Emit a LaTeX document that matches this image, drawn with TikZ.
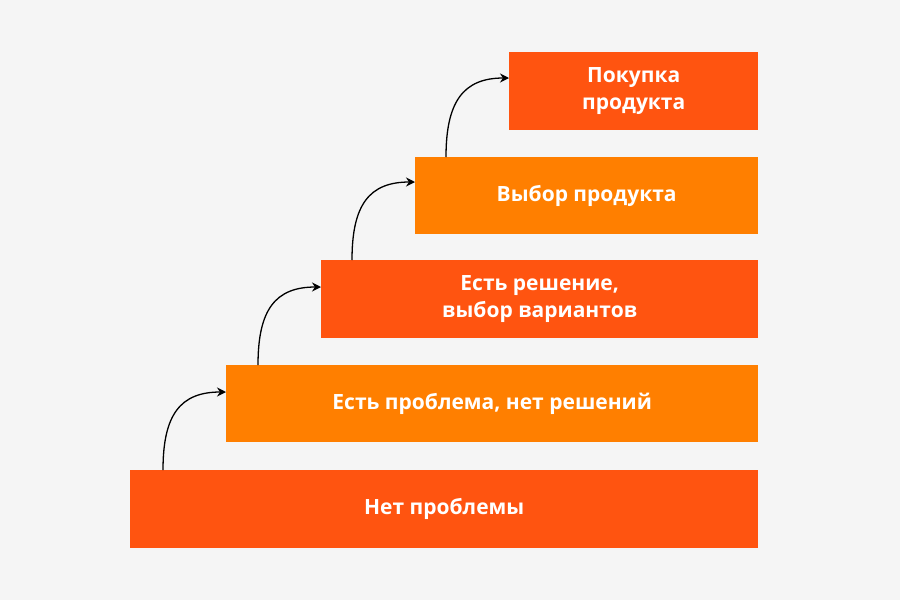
\documentclass[tikz,border=0pt]{standalone}
\usepackage{fontspec}
\setmainfont{Open Sans}
\usetikzlibrary{arrows.meta}
\definecolor{bg}{HTML}{F5F5F5}
\definecolor{red1}{HTML}{FF5410}
\definecolor{org1}{HTML}{FF7F00}
\tikzset{stepbox/.style={anchor=north west,inner sep=0pt,text=white,font=\bfseries\fontsize{21}{27}\selectfont,align=center},
arr/.style={-{Stealth[length=9pt,width=9pt]},line width=1.3pt}}
\begin{document}
\begin{tikzpicture}[x=1pt,y=-1pt]
\fill[bg] (0,0) rectangle (900,600);
\useasboundingbox (0,0) rectangle (900,600);
\node[stepbox,fill=red1,minimum width=628pt,minimum height=78pt] (b1) at (130,470) {Нет проблемы};
\node[stepbox,fill=org1,minimum width=532pt,minimum height=77pt] (b2) at (226,365) {Есть проблема, нет решений};
\node[stepbox,fill=red1,minimum width=437pt,minimum height=78pt] (b3) at (321,260) {Есть решение,\\выбор вариантов};
\node[stepbox,fill=org1,minimum width=343pt,minimum height=77pt] (b4) at (415,157) {Выбор продукта};
\node[stepbox,fill=red1,minimum width=249pt,minimum height=78pt] (b5) at (509,52) {Покупка\\продукта};
\draw[arr] (b1.north west)++(33,0) coordinate (s1) .. controls (163,415) and (180,392) .. (b2.west|-0,392);
\draw[arr] (b2.north west)++(32,0) coordinate (s2) .. controls (258,310) and (275,287) .. (b3.west|-0,287);
\draw[arr] (b3.north west)++(31,0) coordinate (s3) .. controls (352,205) and (369,182) .. (b4.west|-0,182);
\draw[arr] (b4.north west)++(31,0) coordinate (s4) .. controls (446,102) and (463,78) .. (b5.west|-0,78);
\end{tikzpicture}
\end{document}
